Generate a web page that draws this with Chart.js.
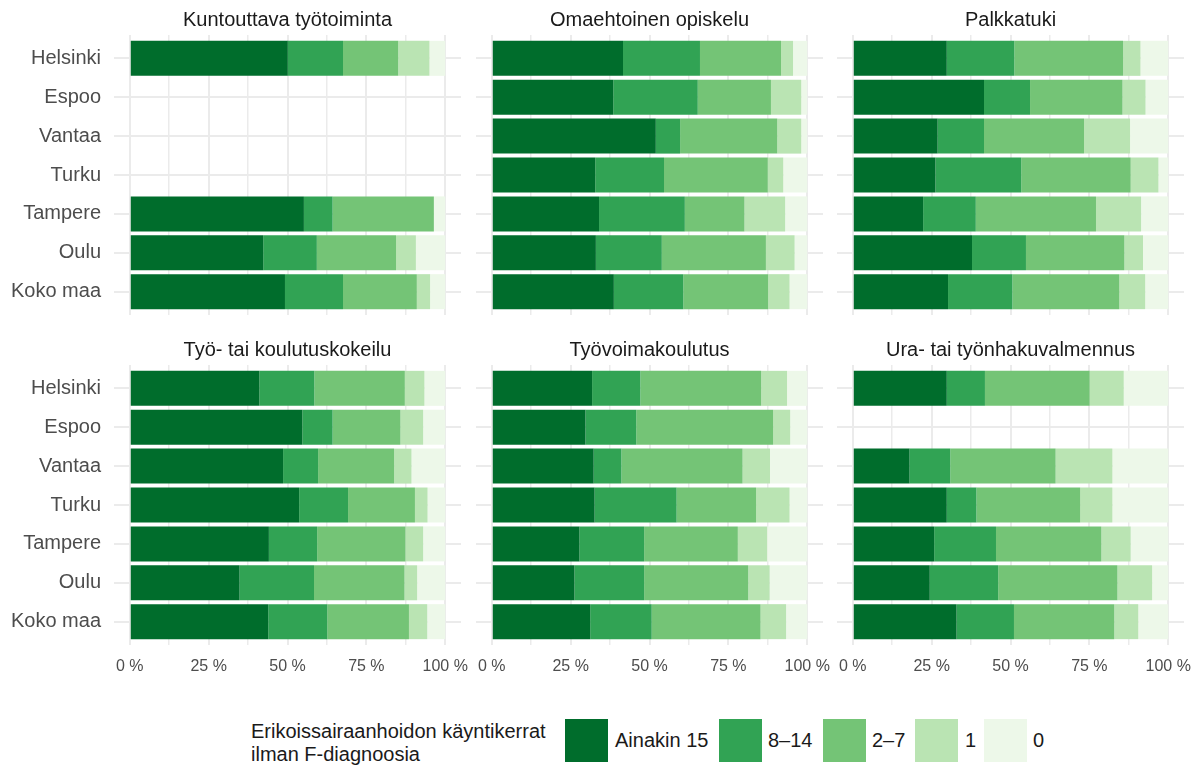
<!DOCTYPE html>
<html>
<head>
<meta charset="utf-8">
<script src="https://cdn.jsdelivr.net/npm/chart.js@4/dist/chart.umd.min.js"></script>
<style>
  body { margin: 0; background: #fff; font-family: "Liberation Sans", Arial, sans-serif; }
  #page { position: relative; width: 1204px; height: 766px; overflow: hidden; }
  .panel { position: absolute; }
  .legend-title { position: absolute; left: 251px; top: 720px; font-size: 20px; line-height: 23px; color: #1a1a1a; }
  .key { position: absolute; top: 719px; width: 43px; height: 43px; }
  .key-label { position: absolute; top: 729px; font-size: 20px; line-height: 23px; color: #1a1a1a; white-space: nowrap; }
</style>
</head>
<body>
<div id="page"></div>
<script>
// Data (percent of each group)
const cities = ["Helsinki", "Espoo", "Vantaa", "Turku", "Tampere", "Oulu", "Koko maa"];
const groups = ["Ainakin 15", "8–14", "2–7", "1", "0"];
const colors = ["#006d2c", "#31a354", "#74c476", "#bae4b3", "#edf8e9"];
const xTicks = [0, 12.5, 25, 37.5, 50, 62.5, 75, 87.5, 100];

const titles = [
  "Kuntouttava työtoiminta", "Omaehtoinen opiskelu", "Palkkatuki",
  "Työ- tai koulutuskokeilu", "Työvoimakoulutus", "Ura- tai työnhakuvalmennus"
];

// one array per panel and group, ordered like cities (null = no bar)
const kuntouttava15 = [50.1, null, null, null, 55.2, 42.3, 49.2];
const kuntouttava8 = [17.5, null, null, null, 9.1, 17.0, 18.4];
const kuntouttava2 = [17.5, null, null, null, 32.1, 25.1, 23.4];
const kuntouttava1 = [9.9, null, null, null, 0, 6.3, 4.2];
const kuntouttava0 = [5.0, null, null, null, 3.6, 9.3, 4.8];

const opiskelu15 = [41.6, 38.5, 52.0, 32.8, 34.0, 33.0, 38.7];
const opiskelu8 = [24.4, 26.8, 7.7, 21.8, 27.2, 20.9, 22.0];
const opiskelu2 = [25.7, 23.2, 30.8, 32.9, 18.9, 33.0, 26.9];
const opiskelu1 = [3.8, 9.6, 7.6, 4.9, 12.9, 9.1, 6.8];
const opiskelu0 = [4.5, 1.9, 1.9, 7.6, 7.0, 4.0, 5.6];

const palkkatuki15 = [29.8, 41.6, 26.9, 26.2, 22.3, 37.8, 30.2];
const palkkatuki8 = [21.4, 14.6, 14.7, 27.2, 16.7, 17.1, 20.4];
const palkkatuki2 = [34.5, 29.3, 31.7, 34.7, 38.1, 31.2, 33.9];
const palkkatuki1 = [5.5, 7.3, 14.6, 8.8, 14.3, 5.9, 8.2];
const palkkatuki0 = [8.8, 7.2, 12.1, 3.1, 8.6, 8.0, 7.3];

const kokeilu15 = [41.1, 54.7, 48.6, 53.7, 44.1, 34.8, 43.9];
const kokeilu8 = [17.4, 9.6, 11.1, 15.5, 15.3, 23.6, 18.7];
const kokeilu2 = [28.7, 21.5, 24.1, 21.2, 28.0, 28.7, 25.9];
const kokeilu1 = [6.2, 7.2, 5.5, 4.0, 5.6, 4.0, 5.8];
const kokeilu0 = [6.6, 7.0, 10.7, 5.6, 7.0, 8.9, 5.7];

const koulutus15 = [31.8, 29.7, 32.3, 32.6, 27.8, 26.2, 31.2];
const koulutus8 = [15.3, 16.1, 8.8, 26.0, 20.5, 22.1, 19.5];
const koulutus2 = [38.3, 43.4, 38.4, 25.2, 29.7, 33.0, 34.5];
const koulutus1 = [8.2, 5.4, 8.7, 10.6, 9.3, 6.8, 8.1];
const koulutus0 = [6.4, 5.4, 11.8, 5.6, 12.7, 11.9, 6.7];

const valmennus15 = [29.8, null, 18.0, 29.8, 25.8, 24.4, 32.9];
const valmennus8 = [12.1, null, 12.9, 9.4, 19.6, 21.7, 18.2];
const valmennus2 = [33.2, null, 33.4, 32.9, 33.4, 37.8, 31.8];
const valmennus1 = [10.8, null, 18.0, 10.2, 9.3, 11.0, 7.6];
const valmennus0 = [14.1, null, 17.7, 17.7, 11.9, 5.1, 9.5];

const panels = [
  [kuntouttava15, kuntouttava8, kuntouttava2, kuntouttava1, kuntouttava0],
  [opiskelu15, opiskelu8, opiskelu2, opiskelu1, opiskelu0],
  [palkkatuki15, palkkatuki8, palkkatuki2, palkkatuki1, palkkatuki0],
  [kokeilu15, kokeilu8, kokeilu2, kokeilu1, kokeilu0],
  [koulutus15, koulutus8, koulutus2, koulutus1, koulutus0],
  [valmennus15, valmennus8, valmennus2, valmennus1, valmennus0]
];

Chart.defaults.font.family = "'Liberation Sans', Arial, sans-serif";

const page = document.getElementById("page");
const panelLefts = [114, 476, 837];
const panelTops = [35, 365];
const panelW = 347, panelH = 280, titleH = 35, padR = 26;

panels.forEach((series, p) => {
  const col = p % 3, row = Math.floor(p / 3);
  const yLabelW = col === 0 ? 114 : 0;
  const padL = col === 0 ? 0 : 14;
  const bottomH = row === 1 ? 40 : 30;
  const left = panelLefts[col] - yLabelW - padL;
  const width = yLabelW + padL + panelW + padR;
  const height = titleH + panelH + bottomH;

  const box = document.createElement("div");
  box.className = "panel";
  box.style.left = left + "px";
  box.style.top = (panelTops[row] - titleH) + "px";
  const canvas = document.createElement("canvas");
  canvas.width = width;
  canvas.height = height;
  box.appendChild(canvas);
  page.appendChild(box);

  new Chart(canvas.getContext("2d"), {
    type: "bar",
    data: {
      datasets: groups.map((g, k) => ({
        label: g,
        data: cities.map((c, i) => ({ x: series[k][i], y: i })).filter((d) => d.x !== null),
        backgroundColor: colors[k],
        borderWidth: 0,
        barPercentage: 0.9,
        categoryPercentage: 1.0,
      })),
    },
    options: {
      indexAxis: "y",
      responsive: false,
      animation: false,
      devicePixelRatio: 1,
      layout: { padding: { left: padL, right: padR, top: 0, bottom: 0 } },
      plugins: {
        legend: { display: false },
        tooltip: { enabled: false },
        title: {
          display: true,
          text: titles[p],
          fullSize: false,
          color: "#1a1a1a",
          font: { size: 20, weight: "normal" },
          padding: { top: 8, bottom: 3 },
        },
      },
      scales: {
        x: {
          type: "linear",
          stacked: true,
          min: -5,
          max: 105,
          bounds: "data",
          afterBuildTicks: (s) => { s.ticks = xTicks.map((v) => ({ value: v })); },
          afterFit: (s) => { s.height = bottomH; },
          ticks: {
            display: row === 1,
            autoSkip: false,
            maxRotation: 0,
            padding: 12,
            color: "#4d4d4d",
            font: { size: 16 },
            callback: (v) => (v % 25 === 0 ? v + " %" : ""),
          },
          grid: {
            color: "#ebebeb",
            drawTicks: false,
            lineWidth: (ctx) => (ctx.tick && ctx.tick.value % 25 === 0 ? 2 : 1.5),
          },
          border: { display: false },
        },
        y: {
          type: "linear",
          stacked: true,
          reverse: true,
          offset: false,
          min: -0.6,
          max: 6.6,
          bounds: "data",
          afterBuildTicks: (s) => { s.ticks = cities.map((c, i) => ({ value: i })); },
          afterFit: (s) => { s.width = yLabelW; },
          ticks: {
            display: col === 0,
            autoSkip: false,
            padding: 13,
            color: "#4d4d4d",
            font: { size: 20 },
            callback: (v) => cities[v],
          },
          grid: { color: "#ebebeb", drawTicks: false, offset: false, lineWidth: 2 },
          border: { display: false },
        },
      },
    },
  });
});

// legend
const legendTitle = document.createElement("div");
legendTitle.className = "legend-title";
legendTitle.innerHTML = "Erikoissairaanhoidon käyntikerrat<br>ilman F-diagnoosia";
page.appendChild(legendTitle);

const keyLefts = [565, 719, 823, 915, 984];
const labelLefts = [615, 768, 872, 965, 1033];
groups.forEach((g, k) => {
  const key = document.createElement("div");
  key.className = "key";
  key.style.left = keyLefts[k] + "px";
  key.style.background = colors[k];
  page.appendChild(key);
  const label = document.createElement("div");
  label.className = "key-label";
  label.style.left = labelLefts[k] + "px";
  label.textContent = g;
  page.appendChild(label);
});
</script>
</body>
</html>
